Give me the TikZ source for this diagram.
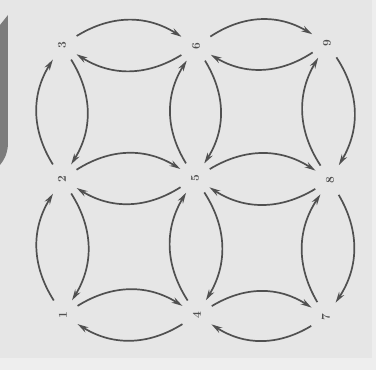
\documentclass[tikz,border=0pt]{standalone}
\usetikzlibrary{arrows.meta}
\definecolor{bg}{HTML}{E6E6E6}
\definecolor{bgl}{HTML}{EEEEEE}
\definecolor{ink}{HTML}{505050}
\definecolor{bar}{HTML}{7C7C7C}
\begin{document}
\begin{tikzpicture}[x=1pt,y=1pt,
  state/.style={circle,minimum size=34pt,inner sep=0pt,text=ink,font=\bfseries\large,rotate=90},
  trans/.style={draw=ink,line width=1.7pt,bend left=32,-{Stealth[length=11pt,width=6pt]}}]
\useasboundingbox (0,0) rectangle (376,370);
\fill[bg] (0,0) rectangle (376,370);
\fill[bgl] (0,0) rectangle (376,12);
\fill[bgl] (372,0) rectangle (376,370);
\fill[bar] (0,345) -- (8,355) -- (8,225) .. controls (7,215) and (4,210) .. (0,205) -- cycle;
% states
\node[state] (s3) at (62,325) {3};
\node[state] (s6) at (196,324) {6};
\node[state] (s9) at (327,327) {9};
\node[state] (s2) at (62,191) {2};
\node[state] (s5) at (195,192) {5};
\node[state] (s8) at (330,190) {8};
\node[state] (s1) at (63,55) {1};
\node[state] (s4) at (197,55) {4};
\node[state] (s7) at (326,53) {7};
% horizontal transitions
\foreach \a/\b in {s3/s6,s6/s9,s2/s5,s5/s8,s1/s4,s4/s7}{
  \draw[trans] (\a) to (\b);
  \draw[trans] (\b) to (\a);
}
% vertical transitions
\foreach \a/\b in {s3/s2,s2/s1,s6/s5,s5/s4,s9/s8,s8/s7}{
  \draw[trans] (\a) to (\b);
  \draw[trans] (\b) to (\a);
}
\end{tikzpicture}
\end{document}
